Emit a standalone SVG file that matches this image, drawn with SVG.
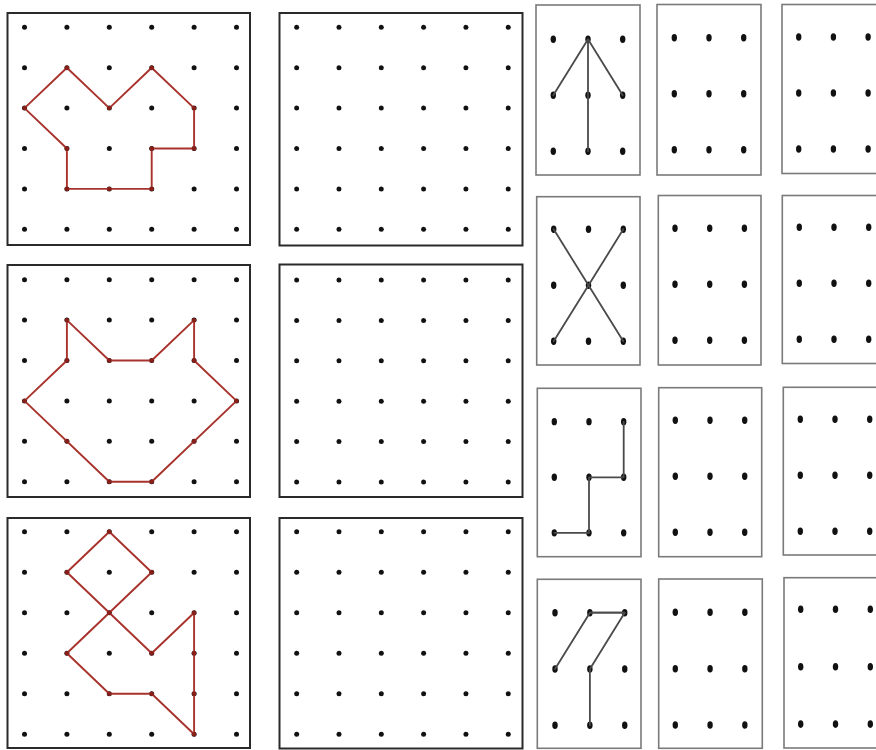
<svg xmlns="http://www.w3.org/2000/svg" xmlns:xlink="http://www.w3.org/1999/xlink" width="876" height="750" viewBox="0 0 876 750">
<style>
.big{fill:#fff;stroke:#2a2a2a;stroke-width:2}
.sm{fill:#fff;stroke:#7a7a7a;stroke-width:1.6}
.red{fill:none;stroke:#a8322c;stroke-width:1.9;stroke-linejoin:round;stroke-linecap:round}
.gry{fill:none;stroke:#4a4a4a;stroke-width:1.8;stroke-linecap:round;stroke-linejoin:round}
.rd{fill:#8a1f1a}
</style>
<defs>
<g id="g6" fill="#111">
<circle cx="0" cy="0" r="2.5"/><circle cx="42.4" cy="0" r="2.5"/><circle cx="84.8" cy="0" r="2.5"/><circle cx="127.2" cy="0" r="2.5"/><circle cx="169.6" cy="0" r="2.5"/><circle cx="212" cy="0" r="2.5"/>
<circle cx="0" cy="40.4" r="2.5"/><circle cx="42.4" cy="40.4" r="2.5"/><circle cx="84.8" cy="40.4" r="2.5"/><circle cx="127.2" cy="40.4" r="2.5"/><circle cx="169.6" cy="40.4" r="2.5"/><circle cx="212" cy="40.4" r="2.5"/>
<circle cx="0" cy="80.8" r="2.5"/><circle cx="42.4" cy="80.8" r="2.5"/><circle cx="84.8" cy="80.8" r="2.5"/><circle cx="127.2" cy="80.8" r="2.5"/><circle cx="169.6" cy="80.8" r="2.5"/><circle cx="212" cy="80.8" r="2.5"/>
<circle cx="0" cy="121.2" r="2.5"/><circle cx="42.4" cy="121.2" r="2.5"/><circle cx="84.8" cy="121.2" r="2.5"/><circle cx="127.2" cy="121.2" r="2.5"/><circle cx="169.6" cy="121.2" r="2.5"/><circle cx="212" cy="121.2" r="2.5"/>
<circle cx="0" cy="161.6" r="2.5"/><circle cx="42.4" cy="161.6" r="2.5"/><circle cx="84.8" cy="161.6" r="2.5"/><circle cx="127.2" cy="161.6" r="2.5"/><circle cx="169.6" cy="161.6" r="2.5"/><circle cx="212" cy="161.6" r="2.5"/>
<circle cx="0" cy="202" r="2.5"/><circle cx="42.4" cy="202" r="2.5"/><circle cx="84.8" cy="202" r="2.5"/><circle cx="127.2" cy="202" r="2.5"/><circle cx="169.6" cy="202" r="2.5"/><circle cx="212" cy="202" r="2.5"/>
</g>
<g id="g3" fill="#111">
<ellipse cx="0" cy="0" rx="2.7" ry="3.7"/><ellipse cx="34.7" cy="0" rx="2.7" ry="3.7"/><ellipse cx="69.4" cy="0" rx="2.7" ry="3.7"/>
<ellipse cx="0" cy="56" rx="2.7" ry="3.7"/><ellipse cx="34.7" cy="56" rx="2.7" ry="3.7"/><ellipse cx="69.4" cy="56" rx="2.7" ry="3.7"/>
<ellipse cx="0" cy="112" rx="2.7" ry="3.7"/><ellipse cx="34.7" cy="112" rx="2.7" ry="3.7"/><ellipse cx="69.4" cy="112" rx="2.7" ry="3.7"/>
</g>
</defs>
<rect width="876" height="750" fill="#fff"/>

<g id="left1">
<rect class="big" x="7.5" y="13" width="242.5" height="232"/>
<use xlink:href="#g6" href="#g6" transform="translate(24.5,27.3)"/>
<polygon class="red" points="24.5,108.1 66.9,67.7 109.3,108.1 151.7,67.7 194.1,108.1 194.1,148.5 151.7,148.5 151.7,188.9 66.9,188.9 66.9,148.5"/>
<g class="rd"><circle cx="66.9" cy="67.7" r="2.2"/><circle cx="151.7" cy="67.7" r="2.2"/><circle cx="109.3" cy="108.1" r="2.2"/><circle cx="194.1" cy="108.1" r="2.2"/><circle cx="24.5" cy="108.1" r="2.2"/><circle cx="194.1" cy="148.5" r="2.2"/><circle cx="151.7" cy="148.5" r="2.2"/><circle cx="66.9" cy="148.5" r="2.2"/><circle cx="66.9" cy="188.9" r="2.2"/><circle cx="109.3" cy="188.9" r="2.2"/><circle cx="151.7" cy="188.9" r="2.2"/></g>
</g>

<g id="left2">
<rect class="big" x="7.5" y="265" width="242.5" height="232"/>
<use xlink:href="#g6" href="#g6" transform="translate(24.5,279.7)"/>
<polygon class="red" points="66.9,320.1 109.3,360.5 151.7,360.5 194.1,320.1 194.1,360.5 236.5,400.9 151.7,481.7 109.3,481.7 24.5,400.9 66.9,360.5"/>
<g class="rd"><circle cx="66.9" cy="320.1" r="2.2"/><circle cx="109.3" cy="360.5" r="2.2"/><circle cx="151.7" cy="360.5" r="2.2"/><circle cx="194.1" cy="320.1" r="2.2"/><circle cx="194.1" cy="360.5" r="2.2"/><circle cx="236.5" cy="400.9" r="2.2"/><circle cx="194.1" cy="441.3" r="2.2"/><circle cx="151.7" cy="481.7" r="2.2"/><circle cx="109.3" cy="481.7" r="2.2"/><circle cx="66.9" cy="441.3" r="2.2"/><circle cx="24.5" cy="400.9" r="2.2"/><circle cx="66.9" cy="360.5" r="2.2"/></g>
</g>

<g id="left3">
<rect class="big" x="7.5" y="518" width="242.5" height="230"/>
<use xlink:href="#g6" href="#g6" transform="translate(24.5,531.7) scale(1,1.0025)"/>
<polygon class="red" points="109.3,531.7 66.9,572.2 151.7,653.2 194.1,612.7 194.1,734.2 151.7,693.7 109.3,693.7 66.9,653.2 151.7,572.2"/>
<g class="rd"><circle cx="109.3" cy="531.7" r="2.2"/><circle cx="66.9" cy="572.2" r="2.2"/><circle cx="151.7" cy="572.2" r="2.2"/><circle cx="109.3" cy="612.7" r="2.2"/><circle cx="151.7" cy="653.2" r="2.2"/><circle cx="194.1" cy="612.7" r="2.2"/><circle cx="194.1" cy="653.2" r="2.2"/><circle cx="194.1" cy="693.7" r="2.2"/><circle cx="194.1" cy="734.2" r="2.2"/><circle cx="151.7" cy="693.7" r="2.2"/><circle cx="109.3" cy="693.7" r="2.2"/><circle cx="66.9" cy="653.2" r="2.2"/></g>
</g>

<g id="mid1">
<rect class="big" x="279.5" y="13" width="243" height="232.5"/>
<use xlink:href="#g6" href="#g6" transform="translate(296.7,27.3) scale(0.998,1)"/>
</g>
<g id="mid2">
<rect class="big" x="279.5" y="264.5" width="243" height="232.5"/>
<use xlink:href="#g6" href="#g6" transform="translate(296.7,280) scale(0.998,1)"/>
</g>
<g id="mid3">
<rect class="big" x="279.5" y="518" width="243" height="230.5"/>
<use xlink:href="#g6" href="#g6" transform="translate(296.7,531.7) scale(0.998,1.0025)"/>
</g>

<g id="r1a">
<rect class="sm" x="536" y="5" width="104" height="170"/>
<use xlink:href="#g3" href="#g3" transform="translate(553.3,39.3)"/>
<polyline class="gry" points="553.3,95.3 588,39.3 622.7,95.3"/>
<line class="gry" x1="588" y1="39.3" x2="588" y2="151.3"/>
</g>
<g id="r1b">
<rect class="sm" x="657" y="4.5" width="104" height="170.5"/>
<use xlink:href="#g3" href="#g3" transform="translate(674.3,37.7)"/>
</g>
<g id="r1c">
<rect class="sm" x="782" y="4.5" width="120" height="169"/>
<use xlink:href="#g3" href="#g3" transform="translate(798.7,37)"/>
</g>

<g id="r2a">
<rect class="sm" x="536.7" y="196.7" width="103.3" height="168.3"/>
<use xlink:href="#g3" href="#g3" transform="translate(553.7,229.3) scale(1.003,1)"/>
<line class="gry" x1="553.7" y1="229.3" x2="623.3" y2="341.3"/>
<line class="gry" x1="623.3" y1="229.3" x2="553.7" y2="341.3"/>
</g>
<g id="r2b">
<rect class="sm" x="658.3" y="195.5" width="102.7" height="169.5"/>
<use xlink:href="#g3" href="#g3" transform="translate(675,228.3)"/>
</g>
<g id="r2c">
<rect class="sm" x="782.3" y="195.5" width="120" height="168"/>
<use xlink:href="#g3" href="#g3" transform="translate(799.3,227.3)"/>
</g>

<g id="r3a">
<rect class="sm" x="537.3" y="388.3" width="103.7" height="168.4"/>
<use xlink:href="#g3" href="#g3" transform="translate(554.3,421.7) scale(1,0.992)"/>
<polyline class="gry" stroke-width="2.4" points="554.3,532.8 589,532.8 589,477.3 623.7,477.3 623.7,421.7"/>
</g>
<g id="r3b">
<rect class="sm" x="658.7" y="387.7" width="103" height="169"/>
<use xlink:href="#g3" href="#g3" transform="translate(675.3,420.3)"/>
</g>
<g id="r3c">
<rect class="sm" x="783.3" y="387.3" width="120" height="167.7"/>
<use xlink:href="#g3" href="#g3" transform="translate(800.3,419.3)"/>
</g>

<g id="r4a">
<rect class="sm" x="537.3" y="579.3" width="103.7" height="169"/>
<use xlink:href="#g3" href="#g3" transform="translate(555,612.7) scale(1.005,1.005)"/>
<polyline class="gry" points="555,669 589.9,612.7 624.7,612.7 589.9,669 589.9,725"/>
<line class="gry" stroke-width="2.6" x1="589.9" y1="612.7" x2="624.7" y2="612.7"/>
</g>
<g id="r4b">
<rect class="sm" x="658.7" y="579" width="103.6" height="169.3"/>
<use xlink:href="#g3" href="#g3" transform="translate(675.3,612.3) scale(1.002,1.007)"/>
</g>
<g id="r4c">
<rect class="sm" x="784" y="577.7" width="120" height="170.3"/>
<use xlink:href="#g3" href="#g3" transform="translate(800.7,609.3) scale(1.003,1.025)"/>
</g>
</svg>
